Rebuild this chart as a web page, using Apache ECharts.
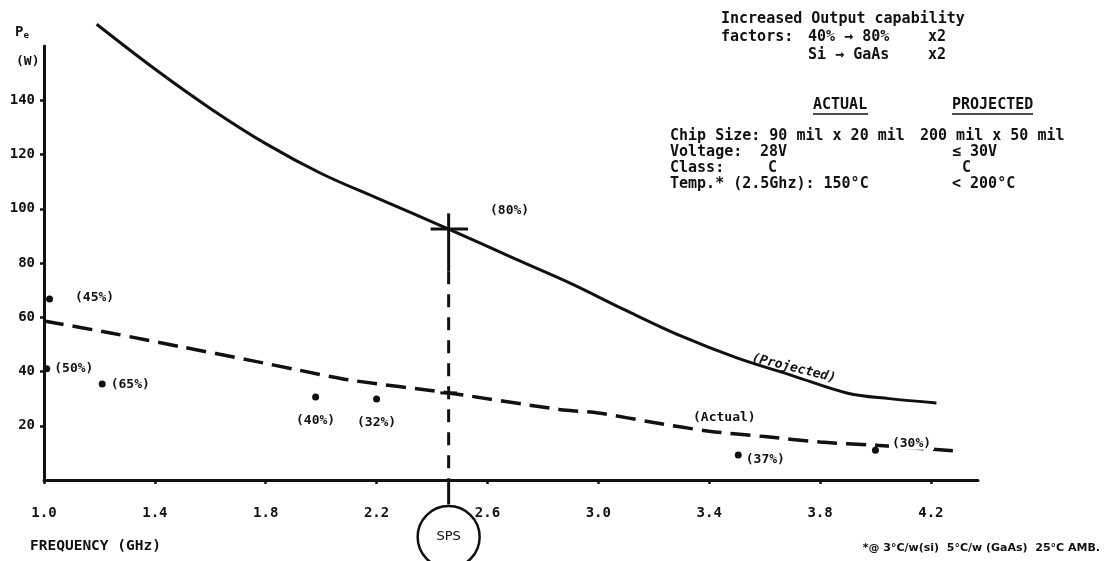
<!DOCTYPE html>
<html>
<head>
<meta charset="utf-8">
<script src="https://cdn.jsdelivr.net/npm/echarts@6/dist/echarts.min.js"></script>
<style>
html,body{margin:0;padding:0;background:#fff;}
#chart{width:1111px;height:561px;}
</style>
</head>
<body>
<div id="chart"></div>
<script>
// ---- data ----
const freqTicks = [1.0, 1.4, 1.8, 2.2, 2.6, 3.0, 3.4, 3.8, 4.2];
const powerTicks = [20, 40, 60, 80, 100, 120, 140];

const projectedFreq  = [1.19, 1.40, 1.60, 1.80, 2.00, 2.20, 2.46, 2.70, 2.90, 3.10, 3.30, 3.50, 3.70, 3.90, 4.05, 4.22];
const projectedPower = [168, 151.5, 137, 124, 113, 104, 92.5, 81.5, 72.5, 62.5, 53, 45, 38.5, 32, 30, 28.4];

const actualFreq  = [1.0, 1.24, 1.5, 1.74, 1.92, 2.1, 2.46, 2.86, 3.0, 3.2, 3.4, 3.6, 3.8, 4.0, 4.29];
const actualPower = [58.6, 54.2, 49, 44.2, 40.5, 36.9, 32.1, 26, 24.7, 21.2, 18, 16, 14, 12.8, 10.7];

const pointFreq   = [1.02, 1.01, 1.21, 1.98, 2.20, 3.505, 4.0];
const pointPower  = [66.7, 41, 35.4, 30.6, 29.9, 9.2, 11];
const pointLabels = ['(45%)', '(50%)', '(65%)', '(40%)', '(32%)', '(37%)', '(30%)'];

const spsFreq = 2.46;
const spsProjected = 92.5;
const spsActual = 32.1;
const spsCrossFreq = [2.395, 2.53];
const spsSolidTop = [98.3, 77];
const spsBelowAxis = [0, -9];
const spsCircle = -21;

// ---- presentation helpers ----
const mono = '"DejaVu Sans Mono", monospace';
const ink = '#111';
const labelPlacement = [
  {position: 'right', distance: 22, offset: [0, -1]},
  {position: 'right', distance: 4},
  {position: 'right', distance: 5, offset: [0, 1]},
  {position: 'bottom', distance: 14},
  {position: 'bottom', distance: 14},
  {position: 'right', distance: 4, offset: [0, 5]},
  {position: 'right', distance: 10, offset: [0, -7], backgroundColor: '#fff', padding: [0, 3]}
];

function zip(a, b) { return a.map((v, i) => [v, b[i]]); }

const chart = echarts.init(document.getElementById('chart'), null, {renderer: 'canvas'});

function txt(x, y, s, opts) {
  return Object.assign({
    type: 'text', x: x, y: y,
    style: Object.assign({text: s, fill: ink, font: 'bold 15px ' + mono, verticalAlign: 'middle'}, (opts && opts.style) || {})
  }, opts && opts.extra || {});
}

const option = {
  backgroundColor: '#fff',
  animation: false,
  grid: {left: 44, right: 133, top: 46, bottom: 81, containLabel: false},
  xAxis: {
    type: 'value', min: 1.0, max: 4.37,
    axisLine: {show: true, onZero: false, lineStyle: {color: ink, width: 3}},
    axisTick: {show: true, customValues: freqTicks, length: 4, lineStyle: {color: ink, width: 2.5}},
    axisLabel: {customValues: freqTicks, margin: 26, color: ink, fontFamily: mono, fontWeight: 'bold', fontSize: 14,
      formatter: v => v.toFixed(1)},
    splitLine: {show: false}
  },
  yAxis: {
    type: 'value', min: 0, max: 160,
    axisLine: {show: true, onZero: false, lineStyle: {color: ink, width: 3}},
    axisTick: {show: true, customValues: powerTicks, length: 4, lineStyle: {color: ink, width: 2.5}},
    axisLabel: {customValues: powerTicks, margin: 9, color: ink, fontFamily: mono, fontWeight: 'bold', fontSize: 14},
    splitLine: {show: false}
  },
  series: [
    {
      name: 'Projected', type: 'line', data: zip(projectedFreq, projectedPower),
      smooth: 0.35, showSymbol: false, clip: false,
      lineStyle: {color: ink, width: 3}
    },
    {
      name: 'Actual', type: 'line', data: zip(actualFreq, actualPower),
      smooth: 0.3, showSymbol: false, clip: false,
      lineStyle: {color: ink, width: 3.5, type: [20, 9]}
    },
    {
      name: 'SPS top', type: 'line', data: spsSolidTop.map(v => [spsFreq, v]),
      showSymbol: false, clip: false, lineStyle: {color: ink, width: 3}
    },
    {
      name: 'SPS dashed', type: 'line', data: [[spsFreq, spsSolidTop[1]], [spsFreq, 0]],
      showSymbol: false, clip: false, lineStyle: {color: ink, width: 3, type: [13, 10]}
    },
    {
      name: 'SPS stem', type: 'line', data: spsBelowAxis.map(v => [spsFreq, v]),
      showSymbol: false, clip: false, lineStyle: {color: ink, width: 3}
    },
    {
      name: 'SPS cross', type: 'line', data: spsCrossFreq.map(f => [f, spsProjected]),
      showSymbol: false, clip: false, lineStyle: {color: ink, width: 3}
    },
    {
      name: 'SPS actual cross', type: 'line', data: [[spsFreq - 0.03, spsActual], [spsFreq + 0.03, spsActual]],
      showSymbol: false, clip: false, lineStyle: {color: ink, width: 3}
    },
    {
      name: 'SPS', type: 'scatter', data: [[spsFreq, spsCircle]], clip: false,
      symbol: 'circle', symbolSize: 62,
      itemStyle: {color: '#fff', borderColor: ink, borderWidth: 2.5, opacity: 1},
      label: {show: true, position: 'inside', formatter: 'SPS', color: ink, fontFamily: '"DejaVu Sans", sans-serif', fontSize: 13},
      z: 5
    },
    {
      name: 'Points', type: 'scatter', clip: false,
      data: pointFreq.map((f, i) => ({
        value: [f, pointPower[i]],
        label: Object.assign({show: true, formatter: pointLabels[i], color: ink}, labelPlacement[i])
      })),
      symbol: 'circle', symbolSize: 7,
      itemStyle: {color: ink, opacity: 1},
      label: {color: ink, fontFamily: mono, fontWeight: 'bold', fontSize: 13},
      z: 6
    }
  ],
  graphic: [
    // axis titles
    {type: 'text', x: 15, y: 32, style: {text: '{p|P}{e|e}', fill: ink, verticalAlign: 'middle',
      rich: {p: {font: 'bold 14px ' + mono, fill: ink}, e: {font: 'bold 9px ' + mono, fill: ink, padding: [8, 0, 0, 0]}}}},
    txt(16, 62, '(W)', {style: {font: 'bold 13px ' + mono}}),
    txt(30, 546, 'FREQUENCY (GHz)', {style: {font: 'bold 14.5px ' + mono}}),
    txt(1100, 548, '*@ 3°C/w(si)  5°C/w (GaAs)  25°C AMB.', {style: {font: 'bold 11px "DejaVu Sans", sans-serif', align: 'right'}}),
    // curve labels
    txt(490, 211, '(80%)', {style: {font: 'bold 13px ' + mono}}),
    txt(693, 418, '(Actual)', {style: {font: 'bold 13px ' + mono}}),
    {type: 'text', x: 752, y: 358, rotation: -0.24, style: {text: '(Projected)', fill: ink, font: 'italic bold 13px ' + mono, verticalAlign: 'middle'}},
    // info block
    txt(721, 19, 'Increased Output capability'),
    txt(721, 37, 'factors:'),
    txt(808, 37, '40% → 80%'),
    txt(928, 37, 'x2'),
    txt(808, 55, 'Si → GaAs'),
    txt(928, 55, 'x2'),
    txt(813, 105, 'ACTUAL'),
    {type: 'line', shape: {x1: 813, y1: 114, x2: 868, y2: 114}, style: {stroke: ink, lineWidth: 1.5}},
    txt(952, 105, 'PROJECTED'),
    {type: 'line', shape: {x1: 952, y1: 114, x2: 1033, y2: 114}, style: {stroke: ink, lineWidth: 1.5}},
    txt(670, 136, 'Chip Size: 90 mil x 20 mil'),
    txt(920, 136, '200 mil x 50 mil'),
    txt(670, 152, 'Voltage:'),
    txt(760, 152, '28V'),
    txt(952, 152, '≤ 30V'),
    txt(670, 168, 'Class:'),
    txt(768, 168, 'C'),
    txt(962, 168, 'C'),
    txt(670, 184, 'Temp.* (2.5Ghz): 150°C'),
    txt(952, 184, '< 200°C')
  ]
};
chart.setOption(option);
</script>
</body>
</html>
